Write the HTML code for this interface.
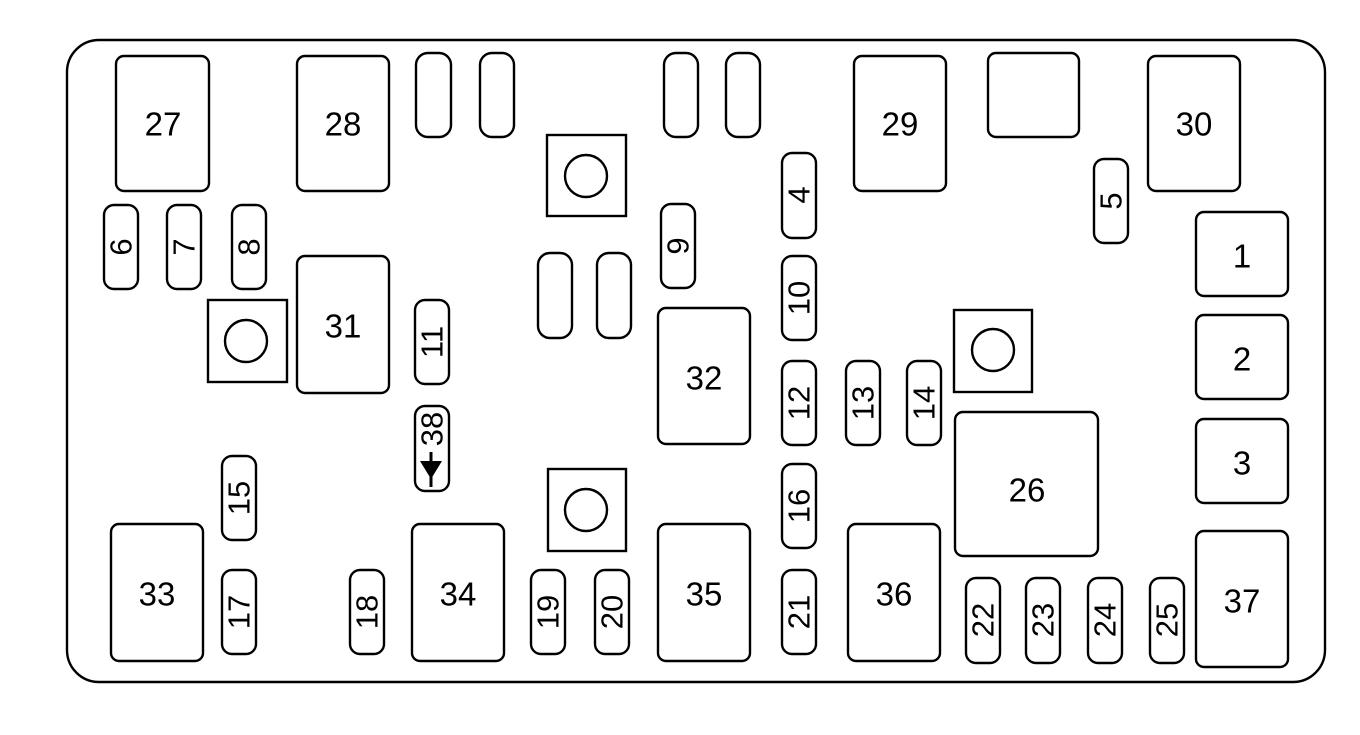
<!DOCTYPE html>
<html><head><meta charset="utf-8"><style>
html,body{margin:0;padding:0;background:#fff;}
svg{display:block;}
text{font-family:"Liberation Sans",sans-serif;fill:#000;}
</style></head><body>
<svg width="1360" height="735" viewBox="0 0 1360 735" xmlns="http://www.w3.org/2000/svg">
<g fill="none" stroke="#000" stroke-width="2.4">
<rect x="67" y="40" width="1258" height="642" rx="32"/>
<rect x="116" y="56" width="93" height="135" rx="8"/>
<rect x="297" y="56" width="92" height="135" rx="8"/>
<rect x="854" y="56" width="92" height="135" rx="8"/>
<rect x="1148" y="56" width="92" height="135" rx="8"/>
<rect x="988" y="53" width="91" height="84" rx="8"/>
<rect x="297" y="256" width="92" height="137" rx="8"/>
<rect x="658" y="308" width="92" height="136" rx="8"/>
<rect x="111" y="524" width="92" height="137" rx="8"/>
<rect x="412" y="524" width="92" height="137" rx="8"/>
<rect x="658" y="524" width="92" height="137" rx="8"/>
<rect x="848" y="524" width="92" height="137" rx="8"/>
<rect x="1196" y="531" width="92" height="136" rx="8"/>
<rect x="955" y="412" width="143" height="144" rx="8"/>
<rect x="1196" y="212" width="92" height="84" rx="8"/>
<rect x="1196" y="315" width="92" height="84" rx="8"/>
<rect x="1196" y="419" width="92" height="84" rx="8"/>
<rect x="416" y="53" width="35" height="84" rx="12"/>
<rect x="480" y="53" width="34" height="84" rx="12"/>
<rect x="664" y="53" width="34" height="84" rx="12"/>
<rect x="726" y="53" width="34" height="84" rx="12"/>
<rect x="538" y="253" width="34" height="85" rx="12"/>
<rect x="597" y="253" width="34" height="85" rx="12"/>
<rect x="547" y="135" width="79" height="81"/><circle cx="586" cy="176" r="21"/>
<rect x="208" y="300" width="79" height="82"/><circle cx="246" cy="341" r="21"/>
<rect x="954" y="310" width="78" height="82"/><circle cx="993" cy="350" r="21"/>
<rect x="548" y="469" width="78" height="82"/><circle cx="586" cy="510" r="21"/>
<rect x="104" y="205" width="34" height="84" rx="10"/>
<rect x="167" y="205" width="34" height="84" rx="10"/>
<rect x="232" y="205" width="34" height="84" rx="10"/>
<rect x="661" y="204" width="34" height="84" rx="10"/>
<rect x="782" y="153" width="34" height="85" rx="10"/>
<rect x="782" y="256" width="34" height="84" rx="10"/>
<rect x="1094" y="159" width="34" height="84" rx="10"/>
<rect x="415" y="300" width="34" height="84" rx="10"/>
<rect x="415" y="406" width="34" height="85" rx="10"/>
<rect x="782" y="361" width="34" height="84" rx="10"/>
<rect x="846" y="361" width="34" height="84" rx="10"/>
<rect x="907" y="361" width="34" height="84" rx="10"/>
<rect x="222" y="456" width="34" height="84" rx="10"/>
<rect x="782" y="464" width="34" height="84" rx="10"/>
<rect x="222" y="570" width="34" height="84" rx="10"/>
<rect x="350" y="570" width="34" height="84" rx="10"/>
<rect x="531" y="570" width="34" height="84" rx="10"/>
<rect x="595" y="570" width="34" height="84" rx="10"/>
<rect x="782" y="570" width="34" height="84" rx="10"/>
<rect x="966" y="578" width="34" height="85" rx="10"/>
<rect x="1026" y="578" width="34" height="85" rx="10"/>
<rect x="1088" y="578" width="34" height="85" rx="10"/>
<rect x="1150" y="578" width="34" height="85" rx="10"/>
</g>
<g font-size="33" text-anchor="middle" dominant-baseline="central">
<text x="163" y="124">27</text>
<text x="343" y="124">28</text>
<text x="900" y="124">29</text>
<text x="1194" y="124">30</text>
<text x="343" y="326">31</text>
<text x="704" y="378">32</text>
<text x="157" y="594">33</text>
<text x="458" y="594">34</text>
<text x="704" y="594">35</text>
<text x="894" y="594">36</text>
<text x="1242" y="601">37</text>
<text x="1027" y="490">26</text>
<text x="1242" y="256">1</text>
<text x="1242" y="359">2</text>
<text x="1242" y="463">3</text>
</g>
<g font-size="31" text-anchor="middle" dominant-baseline="central">
<text transform="translate(121,247) rotate(-90)">6</text>
<text transform="translate(184,247) rotate(-90)">7</text>
<text transform="translate(249,247) rotate(-90)">8</text>
<text transform="translate(678,246) rotate(-90)">9</text>
<text transform="translate(799,195) rotate(-90)">4</text>
<text transform="translate(799,298) rotate(-90)">10</text>
<text transform="translate(1111,201) rotate(-90)">5</text>
<text transform="translate(432,342) rotate(-90)">11</text>
<text transform="translate(432,429) rotate(-90)">38</text>
<text transform="translate(799,403) rotate(-90)">12</text>
<text transform="translate(863,403) rotate(-90)">13</text>
<text transform="translate(924,403) rotate(-90)">14</text>
<text transform="translate(239,498) rotate(-90)">15</text>
<text transform="translate(799,506) rotate(-90)">16</text>
<text transform="translate(239,612) rotate(-90)">17</text>
<text transform="translate(367,612) rotate(-90)">18</text>
<text transform="translate(548,612) rotate(-90)">19</text>
<text transform="translate(612,612) rotate(-90)">20</text>
<text transform="translate(799,612) rotate(-90)">21</text>
<text transform="translate(983,620) rotate(-90)">22</text>
<text transform="translate(1043,620) rotate(-90)">23</text>
<text transform="translate(1105,620) rotate(-90)">24</text>
<text transform="translate(1167,620) rotate(-90)">25</text>
</g>
<line x1="431" y1="452" x2="431" y2="487" stroke="#000" stroke-width="3"/>
<polygon points="420,461 442,461 431,479" fill="#000"/>
</svg>
</body></html>
